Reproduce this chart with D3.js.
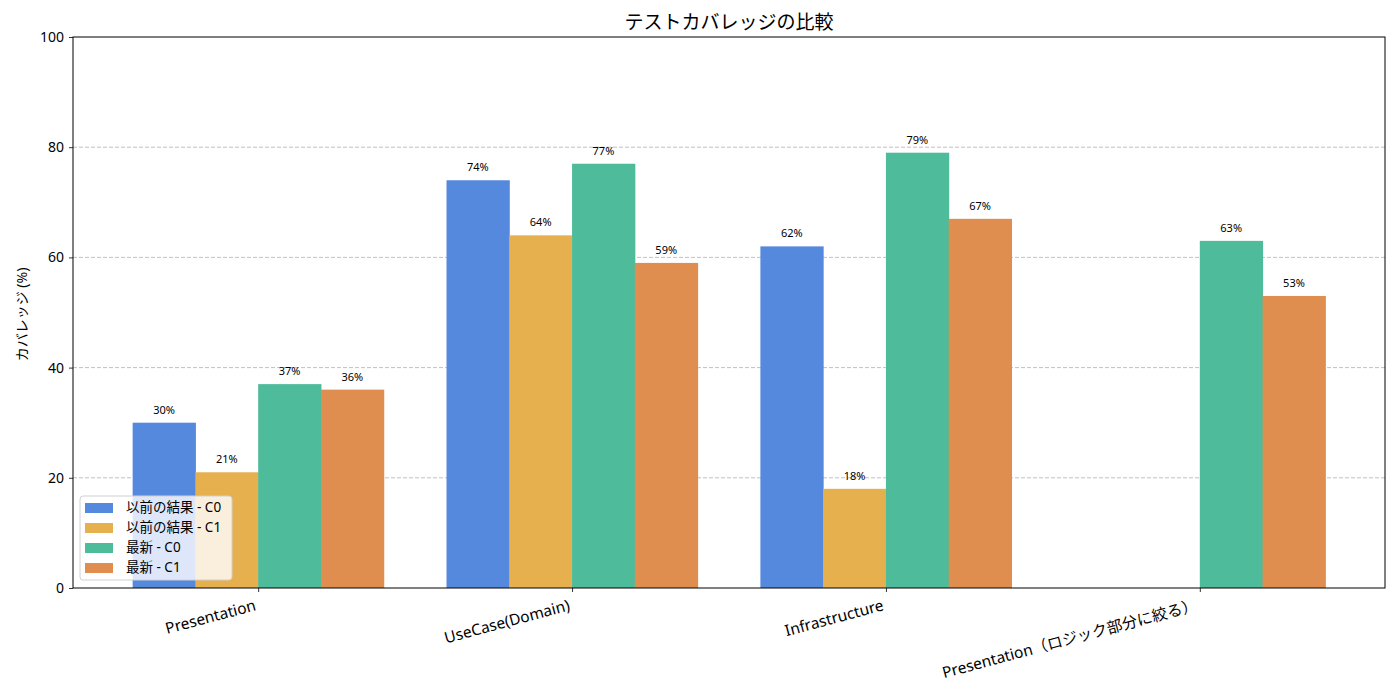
<!DOCTYPE html>
<html>
<head>
<meta charset="utf-8">
<script src="https://cdn.jsdelivr.net/npm/d3@7"></script>
<style>
  body { margin: 0; background: #fff; }
  text { font-family: "Noto Sans", "Noto Sans CJK JP", sans-serif; }
</style>
</head>
<body>
<div id="chart"></div>
<script>
var categories = ['Presentation', 'UseCase(Domain)', 'Infrastructure', 'Presentation（ロジック部分に絞る）'];
var seriesNames = ['以前の結果 - C0', '以前の結果 - C1', '最新 - C0', '最新 - C1'];
var prevC0 = [30, 74, 62, null];
var prevC1 = [21, 64, 18, null];
var latestC0 = [37, 77, 79, 63];
var latestC1 = [36, 59, 67, 53];
var yTicks = [0, 20, 40, 60, 80, 100];
var colors = ['#5589de', '#e6b04f', '#4ebb9b', '#e08e4f'];

var series = [prevC0, prevC1, latestC0, latestC1];

var width = 1400, height = 700;
var plotLeft = 73, plotRight = 1385, plotTop = 37, plotBottom = 588;

var svg = d3.select('#chart')
            .append('svg')
            .attr('width', width)
            .attr('height', height);

// x as a continuous scale over category index, like matplotlib
var x = d3.scaleLinear()
          .domain([-0.59, categories.length - 1 + 0.59])
          .range([plotLeft, plotRight]);

var y = d3.scaleLinear()
          .domain([0, 100])
          .range([plotBottom, plotTop]);

var barW = 0.2;
var offsets = [-0.3, -0.1, 0.1, 0.3];

// grid
svg.append('g')
   .selectAll('line')
   .data(yTicks.filter(t => t > 0 && t < 100))
   .enter()
   .append('line')
   .attr('x1', plotLeft)
   .attr('x2', plotRight)
   .attr('y1', d => y(d))
   .attr('y2', d => y(d))
   .attr('stroke', '#b0b0b0')
   .attr('stroke-width', 0.8)
   .attr('stroke-dasharray', '4,2');

// bars
series.forEach((vals, si) => {
    var data = vals.map((v, i) => ({ i: i, v: v })).filter(d => d.v !== null);
    svg.append('g')
       .selectAll('rect')
       .data(data)
       .enter()
       .append('rect')
       .attr('x', d => x(d.i + offsets[si] - barW / 2))
       .attr('width', d => x(barW) - x(0) + 0.5)
       .attr('y', d => y(d.v))
       .attr('height', d => y(0) - y(d.v))
       .attr('fill', colors[si]);

    svg.append('g')
       .selectAll('text')
       .data(data)
       .enter()
       .append('text')
       .attr('x', d => x(d.i + offsets[si]))
       .attr('y', d => y(d.v) - 9)
       .attr('text-anchor', 'middle')
       .style('font-size', '11px')
       .text(d => d.v + '%');
});

// axes
var yAxis = svg.append('g')
   .attr('transform', `translate(${plotLeft},0)`)
   .call(d3.axisLeft(y).tickValues(yTicks).tickSize(4).tickPadding(5));

var xAxis = svg.append('g')
   .attr('transform', `translate(0,${plotBottom})`)
   .call(d3.axisBottom(x).tickValues(d3.range(categories.length)).tickFormat(i => categories[i]).tickSize(4));

[yAxis, xAxis].forEach(a => {
    a.select('.domain').remove();
    a.selectAll('text').style('font-size', '14px').attr('fill', '#000');
    a.selectAll('line').attr('stroke', '#000').attr('stroke-width', 0.8);
});

xAxis.selectAll('text')
     .style('font-size', '15.5px')
     .attr('text-anchor', 'end')
     .attr('dy', 0)
     .attr('transform', 'translate(-3,18) rotate(-15)')
     .attr('y', 0)
     .attr('x', 0)
     .attr('dominant-baseline', 'middle');

// frame
svg.append('rect')
   .attr('x', plotLeft)
   .attr('y', plotTop)
   .attr('width', plotRight - plotLeft)
   .attr('height', plotBottom - plotTop)
   .attr('fill', 'none')
   .attr('stroke', '#000')
   .attr('stroke-width', 1);

// title and y label
svg.append('text')
   .attr('x', (plotLeft + plotRight) / 2)
   .attr('y', 29)
   .attr('text-anchor', 'middle')
   .style('font-size', '19px')
   .text('テストカバレッジの比較');

svg.append('text')
   .attr('transform', `translate(27,${(plotTop + plotBottom) / 2 + 2}) rotate(-90)`)
   .attr('text-anchor', 'middle')
   .style('font-size', '14px')
   .text('カバレッジ (%)');

// legend
var legend = svg.append('g').attr('transform', 'translate(80,496)');
legend.append('rect')
      .attr('width', 152)
      .attr('height', 84)
      .attr('rx', 3)
      .attr('fill', 'rgba(255,255,255,0.8)')
      .attr('stroke', '#d0d0d0');

seriesNames.forEach((name, i) => {
    var row = legend.append('g').attr('transform', `translate(5,${12 + i * 20})`);
    row.append('rect')
       .attr('x', 0)
       .attr('y', -5)
       .attr('width', 28)
       .attr('height', 10)
       .attr('fill', colors[i]);
    row.append('text')
       .attr('x', 41)
       .attr('y', 0)
       .attr('dominant-baseline', 'middle')
       .style('font-size', '13.5px')
       .text(name);
});
</script>
</body>
</html>
